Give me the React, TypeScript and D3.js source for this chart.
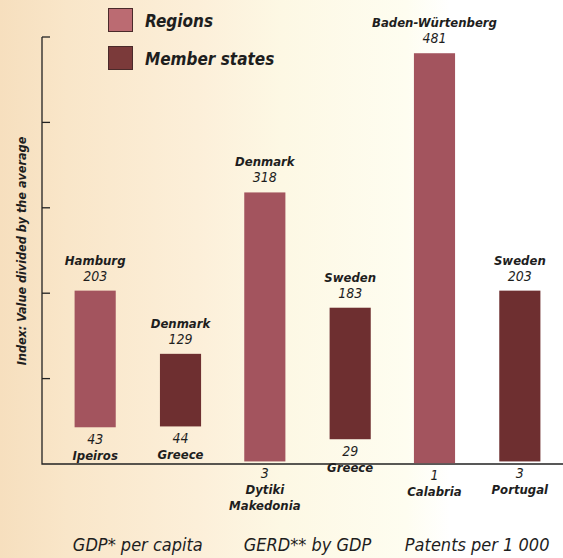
import React from 'react';
import * as d3 from 'd3';

const groups = ["GDP* per capita", "GERD** by GDP", "Patents per 1 000"];
const seriesNames = ["Regions", "Member states"];
const barGroup = [0, 0, 1, 1, 2, 2];
const barSeries = [0, 1, 0, 1, 0, 1];
const highNames = ["Hamburg", "Denmark", "Denmark", "Sweden", "Baden-Würtenberg", "Sweden"];
const highValues = [203, 129, 318, 183, 481, 203];
const lowNames = [["Ipeiros"], ["Greece"], ["Dytiki", "Makedonia"], ["Greece"], ["Calabria"], ["Portugal"]];
const lowValues = [43, 44, 3, 29, 1, 3];
const yTicks = [100, 200, 300, 400, 500];

const W = 563;
const H = 558;
const FONT = '"DejaVu Sans Condensed", "Liberation Sans Narrow", sans-serif';
const colors = ['#a3545e', '#6e2f30'];
const swatchColors = ['#bb6b72', '#7b3a3a'];

const App: React.FC = () => {
  const y = d3.scaleLinear().domain([0, 500]).range([464, 37]);
  const x0 = d3.scaleBand().domain(groups).range([53, 562]).padding(0);
  const x1 = d3.scaleBand().domain(seriesNames).range([0, x0.bandwidth()])
    .paddingInner(0.518).paddingOuter(0.253);
  const axisX = 42;

  return (
    <svg width={W} height={H} style={{ position: 'absolute', left: 0, top: 0 }}>
      <defs>
        <linearGradient id="bg" x1="0" x2="1" y1="0" y2="0">
          <stop offset="0" stopColor="#f6dfbe" />
          <stop offset="0.12" stopColor="#f9e6c9" />
          <stop offset="0.35" stopColor="#fcefd9" />
          <stop offset="0.5" stopColor="#fdf8e4" />
          <stop offset="0.72" stopColor="#fefdf0" />
          <stop offset="0.8" stopColor="#ffffff" />
          <stop offset="1" stopColor="#ffffff" />
        </linearGradient>
      </defs>
      <rect x={0} y={0} width={W} height={H} fill="url(#bg)" />

      {/* legend */}
      {seriesNames.map((s, i) => (
        <g key={s} transform={`translate(108, ${8 + i * 38})`}>
          <rect x={0.5} y={0.5} width={24} height={23} fill={swatchColors[i]} stroke="#4a2a2a" strokeWidth={1} />
          <text x={37} y={19} fontFamily={FONT} fontSize={17} fontWeight="bold" fontStyle="italic" fill="#1e1e1e">{s}</text>
        </g>
      ))}

      {/* y axis */}
      <path d={`M${axisX},${y(500)}V${y(0)}H${W}`} fill="none" stroke="#222" strokeWidth={1.3} />
      {yTicks.map(t => (
        <line key={t} x1={axisX} x2={axisX + 8} y1={y(t)} y2={y(t)} stroke="#222" strokeWidth={1.3} />
      ))}
      <text transform={`translate(26, 251) rotate(-90)`} textAnchor="middle" fontFamily={FONT} fontSize={12.5} fontWeight="bold" fontStyle="italic" fill="#1e1e1e">
        Index: Value divided by the average
      </text>

      {/* bars */}
      {highValues.map((hv, i) => {
        const g = groups[barGroup[i]];
        const s = seriesNames[barSeries[i]];
        const bx = (x0(g) || 0) + (x1(s) || 0);
        const bw = x1.bandwidth();
        const cx = bx + bw / 2;
        const top = y(hv);
        const bottom = y(lowValues[i]);
        return (
          <g key={i}>
            <rect x={bx} y={top} width={bw} height={bottom - top} fill={colors[barSeries[i]]} />
            <text x={cx} y={top - 26} textAnchor="middle" fontFamily={FONT} fontSize={13} fontWeight="bold" fontStyle="italic" fill="#1e1e1e">{highNames[i]}</text>
            <text x={cx} y={top - 10} textAnchor="middle" fontFamily={FONT} fontSize={14} fontStyle="italic" fill="#1e1e1e">{hv}</text>
            <text x={cx} y={bottom + 17} textAnchor="middle" fontFamily={FONT} fontSize={14} fontStyle="italic" fill="#1e1e1e">{lowValues[i]}</text>
            {lowNames[i].map((n, k) => (
              <text key={k} x={cx} y={bottom + 33 + k * 16} textAnchor="middle" fontFamily={FONT} fontSize={13} fontWeight="bold" fontStyle="italic" fill="#1e1e1e">{n}</text>
            ))}
          </g>
        );
      })}

      {/* group labels */}
      {groups.map(g => (
        <text key={g} x={(x0(g) || 0) + x0.bandwidth() / 2} y={551} textAnchor="middle" fontFamily={FONT} fontSize={18} fontStyle="italic" fill="#1e1e1e">{g}</text>
      ))}
    </svg>
  );
};

export default App;
